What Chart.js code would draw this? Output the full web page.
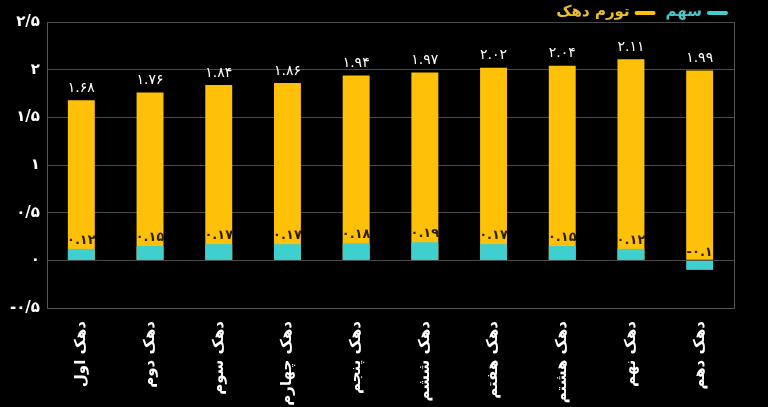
<!DOCTYPE html>
<html>
<head>
<meta charset="utf-8">
<script src="https://cdn.jsdelivr.net/npm/chart.js@4"></script>
<style>
  html, body { margin: 0; padding: 0; background: #000; }
  #wrap { width: 768px; height: 407px; position: relative; }
</style>
</head>
<body>
<div id="wrap"><canvas id="chart"></canvas></div>
<script>
// داده‌ها
const categories = ["دهک اول", "دهک دوم", "دهک سوم", "دهک چهارم", "دهک پنجم",
                    "دهک ششم", "دهک هفتم", "دهک هشتم", "دهک نهم", "دهک دهم"];
const inflation = [1.68, 1.76, 1.84, 1.86, 1.94, 1.97, 2.02, 2.04, 2.11, 1.99];
const share = [0.12, 0.15, 0.17, 0.17, 0.18, 0.19, 0.17, 0.15, 0.12, -0.1];
const seriesNames = ["سهم", "تورم دهک"];
const yMin = -0.5, yMax = 2.5, yStep = 0.5;

const YELLOW = "#FFC107";
const TEAL = "#3FCFCF";
const FONT = "'DejaVu Sans', 'Noto Sans', sans-serif";

const faDigits = "۰۱۲۳۴۵۶۷۸۹";
const toFa = (s) => String(s).replace(/\d/g, d => faDigits[d]);

// برچسب مقادیر روی ستون‌ها
const valueLabels = {
  id: "valueLabels",
  afterDatasetsDraw(chart) {
    const ctx = chart.ctx;
    ctx.save();
    ctx.direction = "ltr";
    ctx.textAlign = "center";
    ctx.textBaseline = "bottom";
    chart.data.datasets.forEach((ds, i) => {
      const meta = chart.getDatasetMeta(i);
      meta.data.forEach((bar, j) => {
        const v = ds.data[j];
        const top = Math.min(bar.y, bar.base);
        if (i === 1) {
          ctx.fillStyle = "#fff";
          ctx.font = "14px " + FONT;
          ctx.fillText(toFa(v), bar.x, top - 5);
        } else {
          ctx.fillStyle = "#2a1f00";
          ctx.font = "bold 13px " + FONT;
          ctx.fillText(toFa(v), bar.x, top - 2);
        }
      });
    });
    ctx.restore();
  }
};

// کادر سمت راست و راهنما
const frameAndLegend = {
  id: "frameAndLegend",
  afterDraw(chart) {
    const ctx = chart.ctx;
    const a = chart.chartArea;
    ctx.save();
    ctx.strokeStyle = "#555";
    ctx.lineWidth = 1;
    ctx.beginPath();
    ctx.moveTo(Math.round(a.right) + 0.5, a.top);
    ctx.lineTo(Math.round(a.right) + 0.5, a.bottom);
    ctx.stroke();

    // legend, right to left
    let x = a.right - 6;
    const y = 12;
    ctx.font = "bold 15px " + FONT;
    ctx.textBaseline = "middle";
    ctx.textAlign = "right";
    ctx.lineCap = "round";
    chart.data.datasets.forEach((ds) => {
      ctx.strokeStyle = ds.backgroundColor;
      ctx.lineWidth = 4;
      ctx.beginPath();
      ctx.moveTo(x - 2, y + 1);
      ctx.lineTo(x - 19, y + 1);
      ctx.stroke();
      x -= 26;
      ctx.fillStyle = ds.legendColor;
      ctx.fillText(ds.label, x, y);
      x -= ctx.measureText(ds.label).width + 10;
    });
    ctx.restore();
  }
};

new Chart(document.getElementById("chart"), {
  type: "bar",
  data: {
    labels: categories,
    datasets: [
      {
        label: seriesNames[0],
        data: share,
        backgroundColor: TEAL,
        legendColor: "#4CC6CB",
        grouped: false,
        barPercentage: 0.8,
        categoryPercentage: 0.49
      },
      {
        label: seriesNames[1],
        data: inflation,
        backgroundColor: YELLOW,
        legendColor: "#EDBE2C",
        grouped: false,
        barPercentage: 0.8,
        categoryPercentage: 0.49
      }
    ]
  },
  options: {
    responsive: true,
    maintainAspectRatio: false,
    animation: false,
    layout: { padding: { top: 22, right: 34, left: 0, bottom: 0 } },
    plugins: {
      legend: { display: false },
      tooltip: { enabled: false }
    },
    scales: {
      x: {
        grid: { display: false },
        border: { color: "#555" },
        ticks: {
          color: "#fff",
          font: { family: FONT, size: 15, weight: "bold" },
          maxRotation: 90,
          minRotation: 90,
          padding: 5
        },
        afterFit: (s) => { s.height = 99; }
      },
      y: {
        min: yMin,
        max: yMax,
        grid: { color: "#4a4a4a", drawTicks: false },
        border: { color: "#555" },
        ticks: {
          stepSize: yStep,
          color: "#fff",
          padding: 7,
          font: { family: FONT, size: 15, weight: "bold" },
          callback: (v) => toFa(String(v).replace(".", "/"))
        },
        afterFit: (s) => { s.width = 47; }
      }
    }
  },
  plugins: [valueLabels, frameAndLegend]
});
</script>
</body>
</html>
